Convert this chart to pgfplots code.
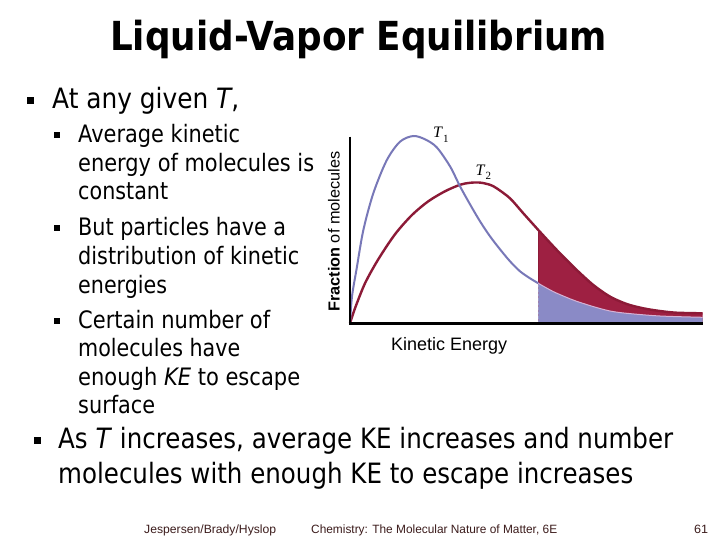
\documentclass[border=0pt]{standalone}
\usepackage{fontspec}
\setmainfont{DejaVu Sans}
\newfontfamily\arialf{Liberation Sans}
\newfontfamily\timesf{Liberation Serif}
\usepackage{graphicx}
\usepackage{pgfplots}
\pgfplotsset{compat=1.18}
\usepackage{pgfplotstable}

\definecolor{blueline}{HTML}{7878B8}
\definecolor{bluefill}{HTML}{8A8AC6}
\definecolor{redline}{HTML}{8C1A37}
\definecolor{redfill}{HTML}{9E2042}
\definecolor{paleline}{HTML}{D6B2D4}
\definecolor{footc}{HTML}{3C1C1C}

% T1 (lower temperature), x = kinetic energy (px units), y = fraction (px units)
\pgfplotstableread{
x y
0 0
2 27
6.7 55
13.3 93
23.3 130
36.7 163
50 181.6
63.3 187.3
75 184
86.7 176
100 157
110 137
120 119
130 102
140 87
150 74
160 62
170 52
180 45
188.3 40
203.3 31.7
220 24.5
226.7 22
243.3 16.7
260 12.3
276.7 10
310 7.3
352.7 6
}\Tone

% T2 (higher temperature)
\pgfplotstableread{
x y
0 0
5 15
15 40
28.3 64
45 89
61.7 108
78.3 122
95 132
110 138.5
120 140.5
130 140.7
140 138.5
146.7 135
160 125
173.3 110
188.3 93.3
203.3 77
210 70
220 60
226.7 53.3
243.3 38.3
260 26.7
276.7 19.3
293.3 15
310 12.3
326.7 10.6
352.7 10
}\Ttwo

\newcommand\tline[5]{\node[anchor=base west,inner sep=0pt,font=#3] at (#1pt,-#2pt) {\resizebox{#4pt}{\height}{#5}};}

\begin{document}
\begin{tikzpicture}
\fill[white] (0pt,0pt) rectangle (720pt,-540pt);

% title
\tline{110}{51}{\fontsize{40}{48}\selectfont\bfseries}{497}{Liquid-Vapor Equilibrium}

% level-1 bullet
\fill (27pt,-97pt) rectangle (34pt,-104pt);
\tline{52}{109}{\fontsize{28}{34}\selectfont}{187}{At any given \textit{T},}

% level-2 bullets
\fill (53.5pt,-132.5pt) rectangle (59.5pt,-138.5pt);
\tline{78}{143}{\fontsize{24}{29}\selectfont}{162}{Average kinetic}
\tline{78}{171.5}{\fontsize{24}{29}\selectfont}{236}{energy of molecules is}
\tline{78}{200}{\fontsize{24}{29}\selectfont}{90}{constant}
\fill (53.5pt,-225.5pt) rectangle (59.5pt,-231.5pt);
\tline{78}{236}{\fontsize{24}{29}\selectfont}{208}{But particles have a}
\tline{78}{264.5}{\fontsize{24}{29}\selectfont}{221}{distribution of kinetic}
\tline{78}{293}{\fontsize{24}{29}\selectfont}{89}{energies}
\fill (53.5pt,-317.5pt) rectangle (59.5pt,-323.5pt);
\tline{78}{328}{\fontsize{24}{29}\selectfont}{192}{Certain number of}
\tline{78}{356.5}{\fontsize{24}{29}\selectfont}{162}{molecules have}
\tline{78}{385}{\fontsize{24}{29}\selectfont}{222}{enough \textit{KE} to escape}
\tline{78}{413.5}{\fontsize{24}{29}\selectfont}{77}{surface}

% bottom bullet
\fill (33.5pt,-436.5pt) rectangle (40.5pt,-443.5pt);
\tline{58}{448.5}{\fontsize{28}{34}\selectfont}{615}{As \textit{T} increases, average KE increases and number}
\tline{58}{483.3}{\fontsize{28}{34}\selectfont}{575}{molecules with enough KE to escape increases}

% footer
\tline{144}{533.3}{\arialf\fontsize{12}{14}\selectfont\color{footc}}{132}{Jespersen/Brady/Hyslop}
\tline{311}{533.3}{\arialf\fontsize{12}{14}\selectfont\color{footc}}{246}{Chemistry: The Molecular Nature of Matter, 6E}
\tline{694}{533.3}{\arialf\fontsize{12}{14}\selectfont\color{footc}}{14}{61}

% axis labels
\node[anchor=base,rotate=90,inner sep=0pt,font=\arialf\fontsize{16}{19}\selectfont] at (339.5pt,-231.7pt)
  {\resizebox{160pt}{\height}{\textbf{Fraction} of molecules}};
\tline{391}{350}{\arialf\fontsize{18}{22}\selectfont}{116}{Kinetic Energy}

% curve labels
\node[anchor=base west,inner sep=0pt,font=\timesf\fontsize{16}{19}\selectfont] at (433pt,-138pt)
  {\textit{T}\raisebox{-4.5pt}{\fontsize{11}{13}\selectfont 1}};
\node[anchor=base west,inner sep=0pt,font=\timesf\fontsize{16}{19}\selectfont] at (475.5pt,-175.5pt)
  {\textit{T}\raisebox{-4.5pt}{\fontsize{11}{13}\selectfont 2}};

\begin{axis}[
  at={(350pt,-323.3pt)}, anchor=south west,
  scale only axis, width=352.7pt, height=186.6pt,
  xmin=0, xmax=352.7, ymin=0, ymax=186.6,
  hide axis, clip=false,
]
\addplot[fill=redfill, draw=none, smooth, restrict x to domain=188.3:400] table[x=x,y=y] {\Ttwo} \closedcycle;
\addplot[fill=bluefill, draw=none, smooth, restrict x to domain=188.3:400] table[x=x,y=y] {\Tone} \closedcycle;
\addplot[draw=blueline!75!white, line width=0.9pt, dash pattern=on 2.5pt off 2pt] coordinates {(188.3,0) (188.3,40)};
\addplot[draw=redline, line width=0.9pt] coordinates {(188.3,40) (188.3,93.3)};
\addplot[draw=redline, line width=2.4pt, smooth, line join=round] table[x=x,y=y] {\Ttwo};
\addplot[draw=blueline, line width=2pt, smooth, line join=round, restrict x to domain=0:188.3] table[x=x,y=y] {\Tone};
\addplot[draw=paleline, line width=1pt, smooth, restrict x to domain=188.3:400] table[x=x,y=y] {\Tone};
\draw[line width=2.4pt, black] (axis cs:0,186.6) -- (axis cs:0,0) -- (axis cs:352.7,0);
\end{axis}
\end{tikzpicture}
\end{document}
